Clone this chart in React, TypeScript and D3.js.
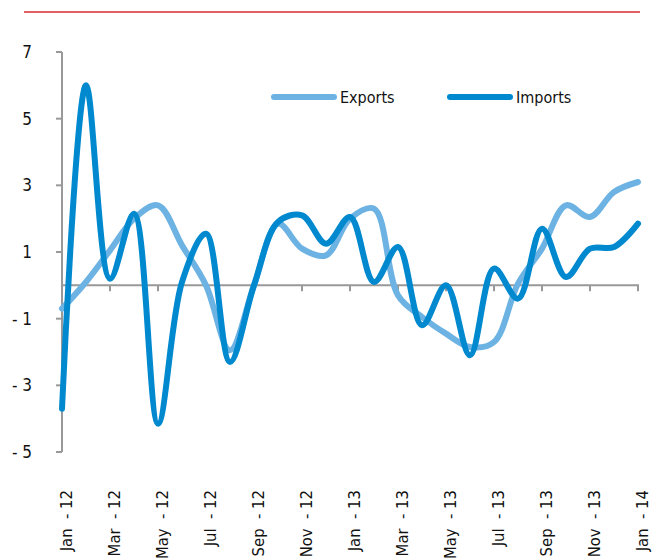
import React from "react";
import * as d3 from "d3";

const months = [
  "Jan -12", "Feb -12", "Mar -12", "Apr -12", "May -12", "Jun -12", "Jul -12", "Aug -12",
  "Sep -12", "Oct -12", "Nov -12", "Dec -12", "Jan -13", "Feb -13", "Mar -13", "Apr -13",
  "May -13", "Jun -13", "Jul -13", "Aug -13", "Sep -13", "Oct -13", "Nov -13", "Dec -13", "Jan -14",
];
const exportsVals = [
  -0.7, 0.1, 1.05, 2.0, 2.4, 1.2, 0.0, -1.95, 0.0, 1.85, 1.1, 0.9,
  2.0, 2.3, -0.3, -0.95, -1.45, -1.85, -1.7, 0.05, 1.1, 2.4, 2.05, 2.8, 3.1,
];
const importsVals = [
  -3.7, 6.0, 0.2, 2.15, -4.15, 0.1, 1.55, -2.3, 0.0, 1.9, 2.1, 1.25,
  2.05, 0.1, 1.15, -1.2, 0.0, -2.1, 0.5, -0.4, 1.7, 0.25, 1.1, 1.15, 1.85,
];
const yTicks = [-5, -3, -1, 1, 3, 5, 7];
const seriesNames = ["Exports", "Imports"];
const seriesColors = ["#6cb2e3", "#0089cf"];

const FONT = "'Liberation Sans Narrow', 'DejaVu Sans Condensed', 'Arial Narrow', sans-serif";

export default function App() {
  const W = 660, H = 560;
  const x = d3.scaleLinear().domain([0, months.length - 1]).range([62, 638]);
  const y = d3.scaleLinear().domain([-5, 7]).range([452, 52]);
  const line = d3
    .line<number>()
    .x((_, i) => x(i))
    .y((d) => y(d))
    .curve(d3.curveCatmullRom.alpha(0.5));
  const axisColor = "#999999";
  const labelIdx = months.map((_, i) => i).filter((i) => i % 2 === 0);

  return (
    <svg width={W} height={H} style={{ position: "absolute", left: 0, top: 0 }}>
      <rect width={W} height={H} fill="#fff" />
      <line x1={24} x2={640} y1={12} y2={12} stroke="#d7282f" strokeWidth={1.5} />
      {/* y axis */}
      <line x1={x(0)} x2={x(0)} y1={y(7)} y2={y(-5)} stroke={axisColor} strokeWidth={2} />
      {yTicks.map((t) => (
        <g key={t}>
          <line x1={x(0) - 6} x2={x(0)} y1={y(t)} y2={y(t)} stroke={axisColor} strokeWidth={2} />
          <text
            x={32}
            y={y(t)}
            dy="0.36em"
            textAnchor="end"
            fontFamily={FONT}
            fontSize={17}
            fill="#111"
            style={{ whiteSpace: "pre" }}
          >
            {t < 0 ? `- ${Math.abs(t)}` : `${t}`}
          </text>
        </g>
      ))}
      {/* x axis at zero */}
      <line x1={x(0)} x2={x(months.length - 1) + 1} y1={y(0)} y2={y(0)} stroke={axisColor} strokeWidth={2} />
      {labelIdx.map((i) => (
        <g key={i}>
          {i > 0 && (
            <line x1={x(i)} x2={x(i)} y1={y(0)} y2={y(0) + 6} stroke={axisColor} strokeWidth={2} />
          )}
          <text
            transform={`translate(${x(i) + 4},490) rotate(-90)`}
            dy="0.35em"
            textAnchor="end"
            fontFamily={FONT}
            fontSize={16.5}
            fill="#111"
            style={{ whiteSpace: "pre" }}
          >
            {months[i].replace(" -", "  - ")}
          </text>
        </g>
      ))}
      {/* series */}
      {[exportsVals, importsVals].map((vals, k) => (
        <path
          key={k}
          d={line(vals) || ""}
          fill="none"
          stroke={seriesColors[k]}
          strokeWidth={6}
          strokeLinejoin="round"
          strokeLinecap="round"
        />
      ))}
      {/* legend */}
      {seriesNames.map((n, k) => {
        const lx = k === 0 ? 274 : 450;
        return (
          <g key={n}>
            <line x1={lx} x2={lx + 60} y1={97} y2={97} stroke={seriesColors[k]} strokeWidth={6} strokeLinecap="round" />
            <text x={lx + 66} y={97} dy="0.36em" fontFamily={FONT} fontSize={16} fill="#111">
              {n}
            </text>
          </g>
        );
      })}
    </svg>
  );
}
